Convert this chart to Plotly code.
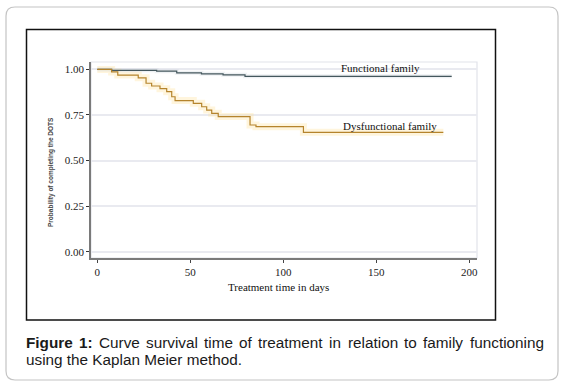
import plotly.graph_objects as go

# ---------------- data ----------------
func_days = [0, 7.7, 31.9, 42.7, 56, 67.6, 79.4, 190.5]
func_surv = [1.0, 0.995, 0.99, 0.981, 0.976, 0.970, 0.962, 0.962]

dys_days = [0, 7.7, 11, 22, 26.2, 29.2, 33.7, 37.3, 40, 41.8, 51.6, 56.1,
            58.8, 61.5, 65, 82.1, 85.3, 110.8, 186]
dys_surv = [1.0, 0.986, 0.969, 0.954, 0.924, 0.909, 0.894, 0.878, 0.850, 0.829,
            0.814, 0.795, 0.777, 0.759, 0.741, 0.695, 0.686, 0.655, 0.655]

x_ticks = [0, 50, 100, 150, 200]
y_ticks = [0.0, 0.25, 0.5, 0.75, 1.0]
y_tick_labels = ["0.00", "0.25", "0.50", "0.75", "1.00"]

series_names = ["Functional family", "Dysfunctional family"]
x_title = "Treatment time in days"
y_title = "Probability of completing the DOTS"
caption_line1 = ["<b>Figure</b>", "<b>1:</b>", "Curve", "survival", "time", "of", "treatment",
                 "in", "relation", "to", "family", "functioning"]
caption_line2 = "using the Kaplan Meier method."

# ---------------- layout geometry (pixels) ----------------
W, H = 564, 386
L, R, T, B = 91, 477, 62, 258


def px(x):
    return (x - L) / (R - L)


def py(y):
    return (B - y) / (B - T)


def rounded_path(x0, y0, x1, y1, r):
    rx = r / (R - L)
    ry = r / (B - T)
    X0, X1 = px(x0), px(x1)
    Y0, Y1 = py(y0), py(y1)  # Y0 top (larger), Y1 bottom
    return (f"M {X0+rx},{Y0} L {X1-rx},{Y0} Q {X1},{Y0} {X1},{Y0-ry} "
            f"L {X1},{Y1+ry} Q {X1},{Y1} {X1-rx},{Y1} "
            f"L {X0+rx},{Y1} Q {X0},{Y1} {X0},{Y1+ry} "
            f"L {X0},{Y0-ry} Q {X0},{Y0} {X0+rx},{Y0} Z")


fig = go.Figure()

# pale halo bands
fig.add_trace(go.Scatter(x=dys_days, y=dys_surv, mode="lines", line_shape="hv",
                         line=dict(color="rgba(255,225,150,0.32)", width=7),
                         hoverinfo="skip", showlegend=False))
fig.add_trace(go.Scatter(x=func_days, y=func_surv, mode="lines", line_shape="hv",
                         line=dict(color="rgba(200,210,215,0.3)", width=4),
                         hoverinfo="skip", showlegend=False))

fig.add_trace(go.Scatter(x=func_days, y=func_surv, mode="lines", line_shape="hv",
                         name=series_names[0],
                         line=dict(color="#44575d", width=1.2), showlegend=False))
fig.add_trace(go.Scatter(x=dys_days, y=dys_surv, mode="lines", line_shape="hv",
                         name=series_names[1],
                         line=dict(color="#b5842c", width=1.2), showlegend=False))

serif = "Liberation Serif, Times New Roman, serif"

fig.update_xaxes(range=[-3.39, 204.1], tickvals=x_ticks, ticktext=[str(v) for v in x_ticks],
                 showgrid=False, zeroline=False, showline=True, linecolor="#7a7a7a",
                 linewidth=1.5, ticks="outside", ticklen=3, tickcolor="#444",
                 tickfont=dict(family=serif, size=11, color="#222"))
fig.update_yaxes(range=[-0.0346, 1.0406], tickvals=y_ticks, ticktext=y_tick_labels,
                 showgrid=True, gridcolor="#e9eaf0", gridwidth=2, zeroline=False,
                 showline=True, linecolor="#7a7a7a", linewidth=1.8,
                 ticks="outside", ticklen=3, tickcolor="#333",
                 tickfont=dict(family=serif, size=11, color="#222"))

shapes = [
    dict(type="path", xref="paper", yref="paper", path=rounded_path(6, 7, 558, 380, 9),
         line=dict(color="#c4c4c4", width=1.2), fillcolor="rgba(0,0,0,0)", layer="below"),
    dict(type="rect", xref="paper", yref="paper", x0=px(26.5), x1=px(495.5),
         y0=py(29.5), y1=py(320), line=dict(color="#111", width=1.5), layer="below"),
    dict(type="rect", xref="paper", yref="paper", x0=0, x1=1, y0=0, y1=1,
         line=dict(color="#e2e3ea", width=1.2), layer="below"),
]

annotations = [
    dict(x=152, y=1.009, xref="x", yref="y", text=series_names[0], showarrow=False,
         xanchor="center", yanchor="middle",
         font=dict(family=serif, size=11, color="#111")),
    dict(x=157.1, y=0.691, xref="x", yref="y", text=series_names[1], showarrow=False,
         xanchor="center", yanchor="middle",
         font=dict(family=serif, size=11, color="#111")),
    dict(x=px(278), y=py(287), xref="paper", yref="paper", text=x_title, showarrow=False,
         xanchor="center", yanchor="middle",
         font=dict(family=serif, size=11, color="#111")),
    dict(x=px(51), y=py(172), xref="paper", yref="paper", text="<b>" + y_title + "</b>",
         showarrow=False, textangle=-90, xanchor="center", yanchor="middle",
         font=dict(family="Liberation Sans, Arial, sans-serif", size=6.5, color="#444")),
]

# justified caption line 1
aw = {' ': 278, 'a': 556, 'b': 556, 'c': 500, 'd': 556, 'e': 556, 'f': 278, 'g': 556,
      'h': 556, 'i': 222, 'j': 222, 'k': 500, 'l': 222, 'm': 833, 'n': 556, 'o': 556,
      'p': 556, 'q': 556, 'r': 333, 's': 500, 't': 278, 'u': 556, 'v': 500, 'w': 722,
      'x': 500, 'y': 500, 'z': 500, 'C': 722, '.': 278, ':': 278}
bw = {'F': 611, 'i': 278, 'g': 611, 'u': 611, 'r': 389, 'e': 556, '1': 556, ':': 333}
fs = 15.3


def word_width(wd):
    if wd.startswith("<b>"):
        t = wd[3:-4]
        return sum(bw.get(c, 600) for c in t) * fs / 1000
    return sum(aw.get(c, 556) for c in wd) * fs / 1000


widths = [word_width(wd) for wd in caption_line1]
left, right = 23.5, 541.5
gap = (right - left - sum(widths)) / (len(caption_line1) - 1)
cx = left
cap_font = dict(family="Liberation Sans, Arial, sans-serif", size=fs, color="#1a1a1a")
for wd, wdt in zip(caption_line1, widths):
    annotations.append(dict(x=px(cx), y=py(342), xref="paper", yref="paper", text=wd,
                            showarrow=False, xanchor="left", yanchor="middle",
                            font=cap_font))
    cx += wdt + gap
annotations.append(dict(x=px(23.5), y=py(359.5), xref="paper", yref="paper",
                        text=caption_line2, showarrow=False, xanchor="left",
                        yanchor="middle", font=cap_font))

fig.update_layout(width=W, height=H, margin=dict(l=L, r=W - R, t=T, b=H - B),
                  paper_bgcolor="white", plot_bgcolor="white",
                  shapes=shapes, annotations=annotations, showlegend=False)

fig.write_html("out.html", config={"displayModeBar": False},
               post_script="document.body.style.margin='0px';document.body.style.overflow='hidden';")
